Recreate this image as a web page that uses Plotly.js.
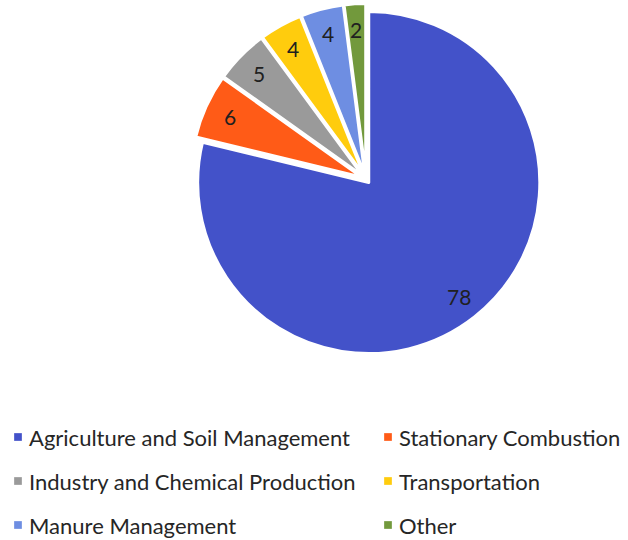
<!DOCTYPE html>
<html>
<head>
<meta charset="utf-8">
<script src="https://cdn.plot.ly/plotly-3.0.1.min.js"></script>
<style>
  html, body { margin: 0; padding: 0; background: #ffffff; }
  #chart { width: 628px; height: 540px; }
</style>
</head>
<body>
<div id="chart"></div>
<script>
// Shares of emissions by source (percent)
const categories = [
  "Agriculture and Soil Management",
  "Stationary Combustion",
  "Industry and Chemical Production",
  "Transportation",
  "Manure Management",
  "Other"
];
const shares = [78, 6, 5, 4, 4, 2];
const sliceColors = ["#4352C9", "#FF5B17", "#9A9A9A", "#FFCC0D", "#6E8EE2", "#72993C"];

// Legend layout: two columns, three rows (order reads left to right)
const legendCols = [18, 388];      // marker centre x, px
const legendRows = [437, 481, 525]; // row centre y, px
const W = 628, H = 540;

const FONT = "Lato, 'Open Sans', sans-serif";
const PULL = 0.026;
const DOMAIN = { x: [0.3033, 0.8623], y: [0.3435, 0.9935] };
const LABEL_R = 0.85; // value labels sit this far out along each slice's mid-angle

const pie = {
  type: "pie",
  labels: categories,
  values: shares,
  sort: false,
  direction: "clockwise",
  rotation: 0,
  pull: PULL,
  marker: { colors: sliceColors, line: { color: "#ffffff", width: 3 } },
  textinfo: "none",
  hoverinfo: "label+value",
  showlegend: false,
  domain: DOMAIN
};

// Pie geometry in pixels (same rules Plotly uses: radius shrinks to leave room for the pull)
const dw = (DOMAIN.x[1] - DOMAIN.x[0]) * W;
const dh = (DOMAIN.y[1] - DOMAIN.y[0]) * H;
const cxPx = (DOMAIN.x[0] + DOMAIN.x[1]) / 2 * W;
const cyPx = H - (DOMAIN.y[0] + DOMAIN.y[1]) / 2 * H;
const rPx = Math.min(dw, dh) / 2 / (1 + PULL);
const total = shares.reduce((a, b) => a + b, 0);

const shapes = [];
const annotations = [];

// Value labels inside each slice, placed along the slice's mid-angle
let cum = 0;
shares.forEach((v) => {
  const mid = (cum + v / 2) / total * 2 * Math.PI; // clockwise from 12 o'clock
  cum += v;
  const dist = rPx * (LABEL_R + PULL);
  const x = cxPx + Math.sin(mid) * dist;
  const y = cyPx - Math.cos(mid) * dist;
  annotations.push({
    xref: "paper", yref: "paper",
    x: x / W, y: 1 - y / H,
    xanchor: "center", yanchor: "middle",
    text: String(v), showarrow: false,
    font: { family: FONT, size: 21, color: "#202020" }
  });
});

// Legend: colour square + category name
categories.forEach((name, i) => {
  const col = i % 2, row = Math.floor(i / 2);
  const cx = legendCols[col], cy = legendRows[row];
  shapes.push({
    type: "rect", xref: "paper", yref: "paper",
    x0: (cx - 4) / W, x1: (cx + 4) / W,
    y0: 1 - (cy + 4) / H, y1: 1 - (cy - 4) / H,
    fillcolor: sliceColors[i], line: { width: 0.5, color: "rgba(255,255,255,0.6)" }
  });
  annotations.push({
    xref: "paper", yref: "paper",
    x: (cx + 9) / W, y: 1 - cy / H,
    xanchor: "left", yanchor: "middle",
    text: name, showarrow: false,
    font: { family: FONT, size: 22, color: "#262626" }
  });
});

const layout = {
  width: W, height: H,
  margin: { l: 0, r: 0, t: 0, b: 0 },
  paper_bgcolor: "#ffffff",
  plot_bgcolor: "#ffffff",
  showlegend: false,
  shapes: shapes,
  annotations: annotations
};

Plotly.newPlot("chart", [pie], layout, { displayModeBar: false, staticPlot: true });
</script>
</body>
</html>
